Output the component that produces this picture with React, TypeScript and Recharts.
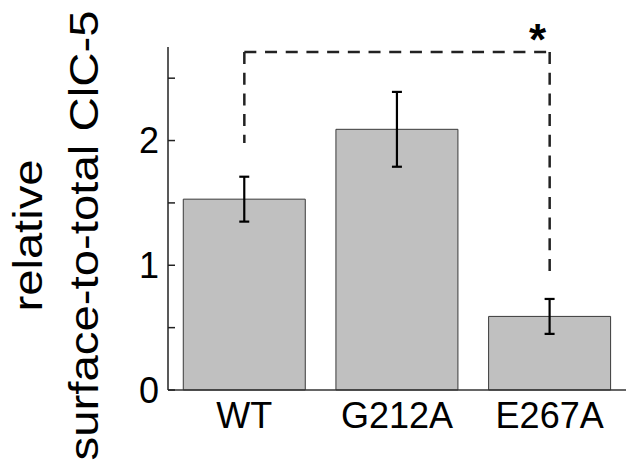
import { BarChart, Bar, XAxis, YAxis, ErrorBar, ReferenceLine, ReferenceDot, Label } from 'recharts';

// values
const categories = ['WT', 'G212A', 'E267A'];
const means = [1.53, 2.09, 0.59];
const errors = [0.18, 0.3, 0.14];
const yTicks = [0, 0.5, 1, 1.5, 2, 2.5];
const yLabelLines = ['relative', 'surface-to-total ClC-5'];

// significance bracket WT vs E267A
const bracketTop = 2.71;
const bracketEnds = [1.98, 0.91];
const bracketMark = '*';

const FONT = '"Liberation Sans", Arial, sans-serif';

const data = categories.map((name, i) => ({ name, value: means[i], err: errors[i] }));

const YTick = ({ x, y, payload }: any) => {
  const axisX = x + 9;
  const major = Number.isInteger(payload.value);
  return (
    <g>
      <line x1={axisX} x2={axisX + 7} y1={y} y2={y} stroke="#222" strokeWidth={1.5} />
      {major && (
        <text x={x} y={y} dy="0.355em" textAnchor="end" fontSize={36} fontFamily={FONT} fill="#000">
          {payload.value}
        </text>
      )}
    </g>
  );
};

const YAxisTitle = ({ viewBox }: any) => {
  const cy = viewBox.y + viewBox.height / 2 + 17;
  const lengths = [152, 450];
  return (
    <g>
      {yLabelLines.map((line, i) => {
        const bx = viewBox.x + 42 + i * 56;
        return (
          <text
            key={line}
            x={bx}
            y={cy}
            transform={`rotate(-90 ${bx} ${cy})`}
            textAnchor="middle"
            fontSize={40}
            fontFamily={FONT}
            fill="#000"
            textLength={lengths[i]}
            lengthAdjust="spacingAndGlyphs"
          >
            {line}
          </text>
        );
      })}
    </g>
  );
};

const Star = ({ viewBox }: any) => (
  <text
    x={viewBox.x - 12}
    y={viewBox.y + 3}
    textAnchor="middle"
    fontSize={44}
    fontWeight="bold"
    fontFamily={FONT}
    fill="#000"
  >
    {bracketMark}
  </text>
);

const dash = { stroke: '#222', strokeWidth: 2.5, strokeDasharray: '12 8.7' };

export default function App() {
  return (
    <div style={{ position: 'absolute', left: 0, top: 0, width: 630, height: 469, background: '#fff' }}>
      <BarChart
        width={630}
        height={469}
        data={data}
        margin={{ top: 47, right: 4, bottom: 19, left: 0 }}
        barCategoryGap="10%"
      >
        <XAxis
          dataKey="name"
          interval={0}
          tickLine={false}
          tickSize={0}
          tickMargin={12}
          axisLine={{ stroke: '#333', strokeWidth: 1.5 }}
          height={60}
          tick={{ fontSize: 36, fill: '#000', fontFamily: FONT }}
        />
        <YAxis
          width={168}
          domain={[0, 2.75]}
          ticks={yTicks}
          tickSize={0}
          tickMargin={9}
          tickLine={false}
          axisLine={{ stroke: '#222', strokeWidth: 1.5 }}
          tick={<YTick />}
        >
          <Label content={<YAxisTitle />} />
        </YAxis>
        <Bar dataKey="value" fill="#c0c0c0" stroke="#3a3a3a" strokeWidth={1} isAnimationActive={false}>
          <ErrorBar dataKey="err" width={5} stroke="#000" strokeWidth={2.2} isAnimationActive={false} />
        </Bar>
        <ReferenceLine segment={[{ x: 'WT', y: bracketTop }, { x: 'E267A', y: bracketTop }]} {...dash} />
        <ReferenceLine segment={[{ x: 'WT', y: bracketTop }, { x: 'WT', y: bracketEnds[0] }]} {...dash} />
        <ReferenceLine segment={[{ x: 'E267A', y: bracketTop }, { x: 'E267A', y: bracketEnds[1] }]} {...dash} />
        <ReferenceDot x="E267A" y={bracketTop} r={0} fill="none" stroke="none">
          <Label content={<Star />} />
        </ReferenceDot>
      </BarChart>
    </div>
  );
}
